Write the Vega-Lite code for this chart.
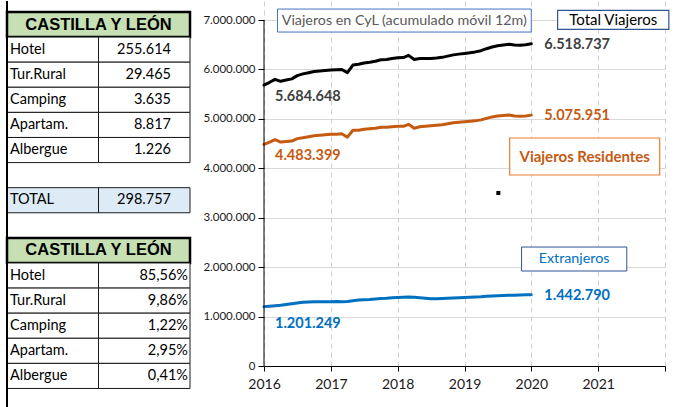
{
"$schema": "https://vega.github.io/schema/vega-lite/v6.json",
"background": "white",
"padding": {"left": 5, "top": 0, "right": 11, "bottom": 0},
"spacing": 74,
"bounds": "flush",
"config": {
  "font": "Lato",
  "view": {"stroke": null},
  "locale": {"number": {"decimal": ",", "thousands": ".", "grouping": [3], "currency": ["", " €"]}}
},
"datasets": {
  "tablas": [
    {"fila": "A0", "tipo": "cabecera", "concepto": "CASTILLA Y LEÓN"},
    {"fila": "A1", "tipo": "celda", "concepto": "Hotel", "valor": 255614},
    {"fila": "A2", "tipo": "celda", "concepto": "Tur.Rural", "valor": 29465},
    {"fila": "A3", "tipo": "celda", "concepto": "Camping", "valor": 3635},
    {"fila": "A4", "tipo": "celda", "concepto": "Apartam.", "valor": 8817},
    {"fila": "A5", "tipo": "celda", "concepto": "Albergue", "valor": 1226},
    {"fila": "AT", "tipo": "total", "concepto": "TOTAL", "valor": 298757},
    {"fila": "B0", "tipo": "cabecera", "concepto": "CASTILLA Y LEÓN"},
    {"fila": "B1", "tipo": "pct", "concepto": "Hotel", "valor": 0.8556},
    {"fila": "B2", "tipo": "pct", "concepto": "Tur.Rural", "valor": 0.0986},
    {"fila": "B3", "tipo": "pct", "concepto": "Camping", "valor": 0.0122},
    {"fila": "B4", "tipo": "pct", "concepto": "Apartam.", "valor": 0.0295},
    {"fila": "B5", "tipo": "pct", "concepto": "Albergue", "valor": 0.0041}
  ],
  "series": [
    {"fecha": "2016/01/01", "serie": "Total", "viajeros": 5684648},
    {"fecha": "2016/02/01", "serie": "Total", "viajeros": 5740000},
    {"fecha": "2016/03/01", "serie": "Total", "viajeros": 5800000},
    {"fecha": "2016/04/01", "serie": "Total", "viajeros": 5760000},
    {"fecha": "2016/05/01", "serie": "Total", "viajeros": 5785000},
    {"fecha": "2016/06/01", "serie": "Total", "viajeros": 5810000},
    {"fecha": "2016/07/01", "serie": "Total", "viajeros": 5875000},
    {"fecha": "2016/08/01", "serie": "Total", "viajeros": 5910000},
    {"fecha": "2016/09/01", "serie": "Total", "viajeros": 5935000},
    {"fecha": "2016/10/01", "serie": "Total", "viajeros": 5960000},
    {"fecha": "2016/11/01", "serie": "Total", "viajeros": 5970000},
    {"fecha": "2016/12/01", "serie": "Total", "viajeros": 5980000},
    {"fecha": "2017/01/01", "serie": "Total", "viajeros": 5990000},
    {"fecha": "2017/02/01", "serie": "Total", "viajeros": 5995000},
    {"fecha": "2017/03/01", "serie": "Total", "viajeros": 6000000},
    {"fecha": "2017/04/01", "serie": "Total", "viajeros": 5935000},
    {"fecha": "2017/05/01", "serie": "Total", "viajeros": 6090000},
    {"fecha": "2017/06/01", "serie": "Total", "viajeros": 6105000},
    {"fecha": "2017/07/01", "serie": "Total", "viajeros": 6130000},
    {"fecha": "2017/08/01", "serie": "Total", "viajeros": 6145000},
    {"fecha": "2017/09/01", "serie": "Total", "viajeros": 6165000},
    {"fecha": "2017/10/01", "serie": "Total", "viajeros": 6195000},
    {"fecha": "2017/11/01", "serie": "Total", "viajeros": 6200000},
    {"fecha": "2017/12/01", "serie": "Total", "viajeros": 6220000},
    {"fecha": "2018/01/01", "serie": "Total", "viajeros": 6235000},
    {"fecha": "2018/02/01", "serie": "Total", "viajeros": 6240000},
    {"fecha": "2018/03/01", "serie": "Total", "viajeros": 6285000},
    {"fecha": "2018/04/01", "serie": "Total", "viajeros": 6200000},
    {"fecha": "2018/05/01", "serie": "Total", "viajeros": 6220000},
    {"fecha": "2018/06/01", "serie": "Total", "viajeros": 6220000},
    {"fecha": "2018/07/01", "serie": "Total", "viajeros": 6220000},
    {"fecha": "2018/08/01", "serie": "Total", "viajeros": 6230000},
    {"fecha": "2018/09/01", "serie": "Total", "viajeros": 6245000},
    {"fecha": "2018/10/01", "serie": "Total", "viajeros": 6270000},
    {"fecha": "2018/11/01", "serie": "Total", "viajeros": 6295000},
    {"fecha": "2018/12/01", "serie": "Total", "viajeros": 6310000},
    {"fecha": "2019/01/01", "serie": "Total", "viajeros": 6325000},
    {"fecha": "2019/02/01", "serie": "Total", "viajeros": 6340000},
    {"fecha": "2019/03/01", "serie": "Total", "viajeros": 6355000},
    {"fecha": "2019/04/01", "serie": "Total", "viajeros": 6380000},
    {"fecha": "2019/05/01", "serie": "Total", "viajeros": 6420000},
    {"fecha": "2019/06/01", "serie": "Total", "viajeros": 6455000},
    {"fecha": "2019/07/01", "serie": "Total", "viajeros": 6480000},
    {"fecha": "2019/08/01", "serie": "Total", "viajeros": 6495000},
    {"fecha": "2019/09/01", "serie": "Total", "viajeros": 6510000},
    {"fecha": "2019/10/01", "serie": "Total", "viajeros": 6493000},
    {"fecha": "2019/11/01", "serie": "Total", "viajeros": 6491000},
    {"fecha": "2019/12/01", "serie": "Total", "viajeros": 6500000},
    {"fecha": "2020/01/01", "serie": "Total", "viajeros": 6518737},
    {"fecha": "2016/01/01", "serie": "Residentes", "viajeros": 4483399},
    {"fecha": "2016/02/01", "serie": "Residentes", "viajeros": 4530000},
    {"fecha": "2016/03/01", "serie": "Residentes", "viajeros": 4580000},
    {"fecha": "2016/04/01", "serie": "Residentes", "viajeros": 4530000},
    {"fecha": "2016/05/01", "serie": "Residentes", "viajeros": 4540000},
    {"fecha": "2016/06/01", "serie": "Residentes", "viajeros": 4550000},
    {"fecha": "2016/07/01", "serie": "Residentes", "viajeros": 4600000},
    {"fecha": "2016/08/01", "serie": "Residentes", "viajeros": 4620000},
    {"fecha": "2016/09/01", "serie": "Residentes", "viajeros": 4640000},
    {"fecha": "2016/10/01", "serie": "Residentes", "viajeros": 4660000},
    {"fecha": "2016/11/01", "serie": "Residentes", "viajeros": 4670000},
    {"fecha": "2016/12/01", "serie": "Residentes", "viajeros": 4680000},
    {"fecha": "2017/01/01", "serie": "Residentes", "viajeros": 4690000},
    {"fecha": "2017/02/01", "serie": "Residentes", "viajeros": 4690000},
    {"fecha": "2017/03/01", "serie": "Residentes", "viajeros": 4700000},
    {"fecha": "2017/04/01", "serie": "Residentes", "viajeros": 4630000},
    {"fecha": "2017/05/01", "serie": "Residentes", "viajeros": 4770000},
    {"fecha": "2017/06/01", "serie": "Residentes", "viajeros": 4770000},
    {"fecha": "2017/07/01", "serie": "Residentes", "viajeros": 4790000},
    {"fecha": "2017/08/01", "serie": "Residentes", "viajeros": 4800000},
    {"fecha": "2017/09/01", "serie": "Residentes", "viajeros": 4810000},
    {"fecha": "2017/10/01", "serie": "Residentes", "viajeros": 4830000},
    {"fecha": "2017/11/01", "serie": "Residentes", "viajeros": 4830000},
    {"fecha": "2017/12/01", "serie": "Residentes", "viajeros": 4840000},
    {"fecha": "2018/01/01", "serie": "Residentes", "viajeros": 4850000},
    {"fecha": "2018/02/01", "serie": "Residentes", "viajeros": 4850000},
    {"fecha": "2018/03/01", "serie": "Residentes", "viajeros": 4890000},
    {"fecha": "2018/04/01", "serie": "Residentes", "viajeros": 4810000},
    {"fecha": "2018/05/01", "serie": "Residentes", "viajeros": 4840000},
    {"fecha": "2018/06/01", "serie": "Residentes", "viajeros": 4850000},
    {"fecha": "2018/07/01", "serie": "Residentes", "viajeros": 4860000},
    {"fecha": "2018/08/01", "serie": "Residentes", "viajeros": 4870000},
    {"fecha": "2018/09/01", "serie": "Residentes", "viajeros": 4880000},
    {"fecha": "2018/10/01", "serie": "Residentes", "viajeros": 4900000},
    {"fecha": "2018/11/01", "serie": "Residentes", "viajeros": 4920000},
    {"fecha": "2018/12/01", "serie": "Residentes", "viajeros": 4930000},
    {"fecha": "2019/01/01", "serie": "Residentes", "viajeros": 4940000},
    {"fecha": "2019/02/01", "serie": "Residentes", "viajeros": 4950000},
    {"fecha": "2019/03/01", "serie": "Residentes", "viajeros": 4960000},
    {"fecha": "2019/04/01", "serie": "Residentes", "viajeros": 4980000},
    {"fecha": "2019/05/01", "serie": "Residentes", "viajeros": 5010000},
    {"fecha": "2019/06/01", "serie": "Residentes", "viajeros": 5040000},
    {"fecha": "2019/07/01", "serie": "Residentes", "viajeros": 5060000},
    {"fecha": "2019/08/01", "serie": "Residentes", "viajeros": 5070000},
    {"fecha": "2019/09/01", "serie": "Residentes", "viajeros": 5080000},
    {"fecha": "2019/10/01", "serie": "Residentes", "viajeros": 5060000},
    {"fecha": "2019/11/01", "serie": "Residentes", "viajeros": 5055000},
    {"fecha": "2019/12/01", "serie": "Residentes", "viajeros": 5060000},
    {"fecha": "2020/01/01", "serie": "Residentes", "viajeros": 5075951},
    {"fecha": "2016/01/01", "serie": "Extranjeros", "viajeros": 1201249},
    {"fecha": "2016/02/01", "serie": "Extranjeros", "viajeros": 1210000},
    {"fecha": "2016/03/01", "serie": "Extranjeros", "viajeros": 1220000},
    {"fecha": "2016/04/01", "serie": "Extranjeros", "viajeros": 1230000},
    {"fecha": "2016/05/01", "serie": "Extranjeros", "viajeros": 1245000},
    {"fecha": "2016/06/01", "serie": "Extranjeros", "viajeros": 1260000},
    {"fecha": "2016/07/01", "serie": "Extranjeros", "viajeros": 1275000},
    {"fecha": "2016/08/01", "serie": "Extranjeros", "viajeros": 1290000},
    {"fecha": "2016/09/01", "serie": "Extranjeros", "viajeros": 1295000},
    {"fecha": "2016/10/01", "serie": "Extranjeros", "viajeros": 1300000},
    {"fecha": "2016/11/01", "serie": "Extranjeros", "viajeros": 1300000},
    {"fecha": "2016/12/01", "serie": "Extranjeros", "viajeros": 1300000},
    {"fecha": "2017/01/01", "serie": "Extranjeros", "viajeros": 1300000},
    {"fecha": "2017/02/01", "serie": "Extranjeros", "viajeros": 1305000},
    {"fecha": "2017/03/01", "serie": "Extranjeros", "viajeros": 1300000},
    {"fecha": "2017/04/01", "serie": "Extranjeros", "viajeros": 1305000},
    {"fecha": "2017/05/01", "serie": "Extranjeros", "viajeros": 1320000},
    {"fecha": "2017/06/01", "serie": "Extranjeros", "viajeros": 1335000},
    {"fecha": "2017/07/01", "serie": "Extranjeros", "viajeros": 1340000},
    {"fecha": "2017/08/01", "serie": "Extranjeros", "viajeros": 1345000},
    {"fecha": "2017/09/01", "serie": "Extranjeros", "viajeros": 1355000},
    {"fecha": "2017/10/01", "serie": "Extranjeros", "viajeros": 1365000},
    {"fecha": "2017/11/01", "serie": "Extranjeros", "viajeros": 1370000},
    {"fecha": "2017/12/01", "serie": "Extranjeros", "viajeros": 1380000},
    {"fecha": "2018/01/01", "serie": "Extranjeros", "viajeros": 1385000},
    {"fecha": "2018/02/01", "serie": "Extranjeros", "viajeros": 1390000},
    {"fecha": "2018/03/01", "serie": "Extranjeros", "viajeros": 1395000},
    {"fecha": "2018/04/01", "serie": "Extranjeros", "viajeros": 1390000},
    {"fecha": "2018/05/01", "serie": "Extranjeros", "viajeros": 1380000},
    {"fecha": "2018/06/01", "serie": "Extranjeros", "viajeros": 1370000},
    {"fecha": "2018/07/01", "serie": "Extranjeros", "viajeros": 1360000},
    {"fecha": "2018/08/01", "serie": "Extranjeros", "viajeros": 1360000},
    {"fecha": "2018/09/01", "serie": "Extranjeros", "viajeros": 1365000},
    {"fecha": "2018/10/01", "serie": "Extranjeros", "viajeros": 1370000},
    {"fecha": "2018/11/01", "serie": "Extranjeros", "viajeros": 1375000},
    {"fecha": "2018/12/01", "serie": "Extranjeros", "viajeros": 1380000},
    {"fecha": "2019/01/01", "serie": "Extranjeros", "viajeros": 1385000},
    {"fecha": "2019/02/01", "serie": "Extranjeros", "viajeros": 1390000},
    {"fecha": "2019/03/01", "serie": "Extranjeros", "viajeros": 1395000},
    {"fecha": "2019/04/01", "serie": "Extranjeros", "viajeros": 1400000},
    {"fecha": "2019/05/01", "serie": "Extranjeros", "viajeros": 1410000},
    {"fecha": "2019/06/01", "serie": "Extranjeros", "viajeros": 1415000},
    {"fecha": "2019/07/01", "serie": "Extranjeros", "viajeros": 1420000},
    {"fecha": "2019/08/01", "serie": "Extranjeros", "viajeros": 1425000},
    {"fecha": "2019/09/01", "serie": "Extranjeros", "viajeros": 1430000},
    {"fecha": "2019/10/01", "serie": "Extranjeros", "viajeros": 1433000},
    {"fecha": "2019/11/01", "serie": "Extranjeros", "viajeros": 1436000},
    {"fecha": "2019/12/01", "serie": "Extranjeros", "viajeros": 1440000},
    {"fecha": "2020/01/01", "serie": "Extranjeros", "viajeros": 1442790}
  ]
},
"hconcat": [
  {
    "width": 183,
    "height": 407,
    "data": {"name": "tablas"},
    "layer": [
      {
        "transform": [{"filter": "datum.tipo == 'cabecera'"}],
        "mark": {"type": "rect", "fill": "#c6e0b4", "stroke": "#000000", "strokeWidth": 2.5},
        "encoding": {
          "y": {"field": "fila", "type": "nominal", "axis": null,
                "scale": {"type": "band", "domain": ["A0","A1","A2","A3","A4","A5","G1","AT","G2","B0","B1","B2","B3","B4","B5"], "paddingInner": 0, "paddingOuter": 0.6075, "align": 0.36}}
        }
      },
      {
        "transform": [{"filter": "datum.tipo != 'cabecera'"}],
        "mark": {"type": "rect", "stroke": "#1a1a1a", "strokeWidth": 1},
        "encoding": {
          "x": {"datum": "concepto", "type": "nominal", "axis": null,
                "scale": {"type": "band", "domain": ["concepto", "valor"], "paddingInner": 0, "paddingOuter": 0}},
          "y": {"field": "fila", "type": "nominal"},
          "fill": {"condition": {"test": "datum.tipo == 'total'", "value": "#ddebf7"}, "value": "#ffffff"}
        }
      },
      {
        "transform": [{"filter": "datum.tipo != 'cabecera'"}],
        "mark": {"type": "rect", "stroke": "#1a1a1a", "strokeWidth": 1},
        "encoding": {
          "x": {"datum": "valor", "type": "nominal"},
          "y": {"field": "fila", "type": "nominal"},
          "fill": {"condition": {"test": "datum.tipo == 'total'", "value": "#ddebf7"}, "value": "#ffffff"}
        }
      },
      {
        "data": {"values": [{}]},
        "mark": {"type": "rule", "color": "#000000", "strokeWidth": 2},
        "encoding": {"x": {"datum": "concepto", "type": "nominal", "bandPosition": 0}}
      },
      {
        "transform": [{"filter": "datum.tipo == 'cabecera'"}],
        "mark": {"type": "text", "fontWeight": "bold", "fontSize": 16.5, "font": "Liberation Sans", "color": "#000000", "baseline": "middle"},
        "encoding": {
          "y": {"field": "fila", "type": "nominal"},
          "text": {"field": "concepto"}
        }
      },
      {
        "transform": [{"filter": "datum.tipo != 'cabecera'"}],
        "mark": {"type": "text", "align": "left", "dx": 3, "fontSize": 14.5, "color": "#000000", "baseline": "middle"},
        "encoding": {
          "x": {"datum": "concepto", "type": "nominal", "bandPosition": 0},
          "y": {"field": "fila", "type": "nominal"},
          "text": {"field": "concepto"}
        }
      },
      {
        "transform": [{"filter": "datum.tipo == 'celda' || datum.tipo == 'total'"}],
        "mark": {"type": "text", "align": "right", "dx": -19, "fontSize": 14.5, "color": "#000000", "baseline": "middle"},
        "encoding": {
          "x": {"datum": "valor", "type": "nominal", "bandPosition": 1},
          "y": {"field": "fila", "type": "nominal"},
          "text": {"field": "valor", "type": "quantitative", "format": ",d"}
        }
      },
      {
        "transform": [{"filter": "datum.tipo == 'pct'"}],
        "mark": {"type": "text", "align": "right", "dx": -2, "fontSize": 14.5, "color": "#000000", "baseline": "middle"},
        "encoding": {
          "x": {"datum": "valor", "type": "nominal", "bandPosition": 1},
          "y": {"field": "fila", "type": "nominal"},
          "text": {"field": "valor", "type": "quantitative", "format": ".2%"}
        }
      }
    ]
  },
  {
    "width": 401,
    "height": 365,
    "layer": [
      {
        "data": {"name": "series"},
        "mark": {"type": "line", "strokeWidth": 3, "strokeJoin": "round", "strokeCap": "round"},
        "encoding": {
          "x": {"field": "fecha", "type": "temporal",
                "scale": {"domain": [{"year": 2016, "month": 1, "date": 1}, {"year": 2022, "month": 1, "date": 1}], "nice": false},
                "axis": {"title": null, "values": [{"year": 2016, "month": 1, "date": 1}, {"year": 2017, "month": 1, "date": 1}, {"year": 2018, "month": 1, "date": 1}, {"year": 2019, "month": 1, "date": 1}, {"year": 2020, "month": 1, "date": 1}, {"year": 2021, "month": 1, "date": 1}, {"year": 2022, "month": 1, "date": 1}],
                         "labelExpr": "timeFormat(datum.value, '%Y') == '2022' ? '' : timeFormat(datum.value, '%Y')",
                         "labelOverlap": false, "labelFlush": false, "labelFontSize": 14, "labelColor": "#1a1a1a", "labelPadding": 6,
                         "domainColor": "#000000", "tickColor": "#000000", "tickSize": 5,
                         "grid": true, "gridColor": "#d0d0d0", "gridDash": [5, 4]}},
          "y": {"field": "viajeros", "type": "quantitative",
                "scale": {"domain": [0, 7385000], "nice": false},
                "axis": {"title": null, "values": [0, 1000000, 2000000, 3000000, 4000000, 5000000, 6000000, 7000000],
                         "format": ",d", "domain": false, "tickColor": "#000000", "tickSize": 6,
                         "labelFontSize": 11.5, "labelColor": "#1a1a1a", "labelPadding": 3,
                         "grid": true, "gridColor": "#d9d9d9"}},
          "color": {"field": "serie", "type": "nominal", "legend": null,
                    "scale": {"domain": ["Total", "Residentes", "Extranjeros"], "range": ["#000000", "#c55a11", "#0070c0"]}}
        }
      },
      {
        "data": {"values": [{}]},
        "mark": {"type": "rule", "color": "#000000", "strokeWidth": 1},
        "encoding": {
          "x": {"datum": {"year": 2016, "month": 1, "date": 1}, "type": "temporal"},
          "y": {"datum": 0, "type": "quantitative"},
          "y2": {"datum": 7000000}
        }
      },
      {
        "data": {"name": "series"},
        "transform": [{"filter": "year(datum.fecha) == 2020"}],
        "mark": {"type": "text", "align": "left", "dx": 13, "dy": 1, "fontWeight": "bold", "fontSize": 14.5, "baseline": "middle"},
        "encoding": {
          "x": {"field": "fecha", "type": "temporal"},
          "y": {"field": "viajeros", "type": "quantitative"},
          "text": {"field": "viajeros", "type": "quantitative", "format": ",d"},
          "color": {"condition": [{"test": "datum.serie == 'Total'", "value": "#404040"}, {"test": "datum.serie == 'Residentes'", "value": "#c55a11"}], "value": "#0070c0"}
        }
      },
      {
        "data": {"name": "series"},
        "transform": [{"filter": "year(datum.fecha) == 2016 && month(datum.fecha) == 0 && datum.serie != 'Extranjeros'"}],
        "mark": {"type": "text", "align": "left", "dx": 11, "dy": 12, "fontWeight": "bold", "fontSize": 14.5, "baseline": "middle"},
        "encoding": {
          "x": {"field": "fecha", "type": "temporal"},
          "y": {"field": "viajeros", "type": "quantitative"},
          "text": {"field": "viajeros", "type": "quantitative", "format": ",d"},
          "color": {"condition": [{"test": "datum.serie == 'Total'", "value": "#404040"}], "value": "#c55a11"}
        }
      },
      {
        "data": {"name": "series"},
        "transform": [{"filter": "year(datum.fecha) == 2016 && month(datum.fecha) == 0 && datum.serie == 'Extranjeros'"}],
        "mark": {"type": "text", "align": "left", "dx": 11, "dy": 17, "fontWeight": "bold", "fontSize": 14.5, "baseline": "middle", "color": "#0070c0"},
        "encoding": {
          "x": {"field": "fecha", "type": "temporal"},
          "y": {"field": "viajeros", "type": "quantitative"},
          "text": {"field": "viajeros", "type": "quantitative", "format": ",d"}
        }
      },
      {
        "data": {"values": [{}]},
        "mark": {"type": "rect", "fill": "#ffffff", "stroke": "#4472c4", "strokeWidth": 1},
        "encoding": {
          "x": {"datum": {"year": 2016, "month": 3, "date": 15}, "type": "temporal"},
          "x2": {"datum": {"year": 2020, "month": 1, "date": 1}},
          "y": {"datum": 6757000, "type": "quantitative"},
          "y2": {"datum": 7222000}
        }
      },
      {
        "data": {"values": [{"texto": "Viajeros en CyL (acumulado móvil 12m)"}]},
        "mark": {"type": "text", "fontSize": 14.3, "color": "#595959", "baseline": "middle"},
        "encoding": {
          "x": {"datum": {"year": 2018, "month": 2, "date": 6}, "type": "temporal"},
          "y": {"datum": 6990000, "type": "quantitative"},
          "text": {"field": "texto"}
        }
      },
      {
        "data": {"values": [{}]},
        "mark": {"type": "rect", "fill": "#ffffff", "stroke": "#2f5597", "strokeWidth": 1.2},
        "encoding": {
          "x": {"datum": {"year": 2020, "month": 5, "date": 24}, "type": "temporal"},
          "x2": {"datum": {"year": 2022, "month": 1, "date": 22}},
          "y": {"datum": 6810000, "type": "quantitative"},
          "y2": {"datum": 7196000}
        }
      },
      {
        "data": {"values": [{"texto": "Total Viajeros"}]},
        "mark": {"type": "text", "fontSize": 15, "color": "#000000", "baseline": "middle"},
        "encoding": {
          "x": {"datum": {"year": 2021, "month": 3, "date": 24}, "type": "temporal"},
          "y": {"datum": 7003000, "type": "quantitative"},
          "text": {"field": "texto"}
        }
      },
      {
        "data": {"values": [{}]},
        "mark": {"type": "rect", "fill": "#ffffff", "stroke": "#ed7d31", "strokeWidth": 1.2},
        "encoding": {
          "x": {"datum": {"year": 2019, "month": 9, "date": 5}, "type": "temporal"},
          "x2": {"datum": {"year": 2021, "month": 12, "date": 3}},
          "y": {"datum": 3864000, "type": "quantitative"},
          "y2": {"datum": 4613000}
        }
      },
      {
        "data": {"values": [{"texto": "Viajeros Residentes"}]},
        "mark": {"type": "text", "fontSize": 15, "fontWeight": "bold", "color": "#c55a11", "baseline": "middle"},
        "encoding": {
          "x": {"datum": {"year": 2020, "month": 10, "date": 19}, "type": "temporal"},
          "y": {"datum": 4228000, "type": "quantitative"},
          "text": {"field": "texto"}
        }
      },
      {
        "data": {"values": [{}]},
        "mark": {"type": "rect", "fill": "#ffffff", "stroke": "#2f5597", "strokeWidth": 1},
        "encoding": {
          "x": {"datum": {"year": 2019, "month": 11, "date": 9}, "type": "temporal"},
          "x2": {"datum": {"year": 2021, "month": 6, "date": 6}},
          "y": {"datum": 1922000, "type": "quantitative"},
          "y2": {"datum": 2407000}
        }
      },
      {
        "data": {"values": [{"texto": "Extranjeros"}]},
        "mark": {"type": "text", "fontSize": 14.3, "color": "#0070c0", "baseline": "middle"},
        "encoding": {
          "x": {"datum": {"year": 2020, "month": 8, "date": 22}, "type": "temporal"},
          "y": {"datum": 2165000, "type": "quantitative"},
          "text": {"field": "texto"}
        }
      },
      {
        "data": {"values": [{}]},
        "mark": {"type": "point", "shape": "square", "filled": true, "size": 16, "color": "#000000", "opacity": 1},
        "encoding": {
          "x": {"datum": {"year": 2019, "month": 7, "date": 5}, "type": "temporal"},
          "y": {"datum": 3500000, "type": "quantitative"}
        }
      }
    ]
  }
]
}
